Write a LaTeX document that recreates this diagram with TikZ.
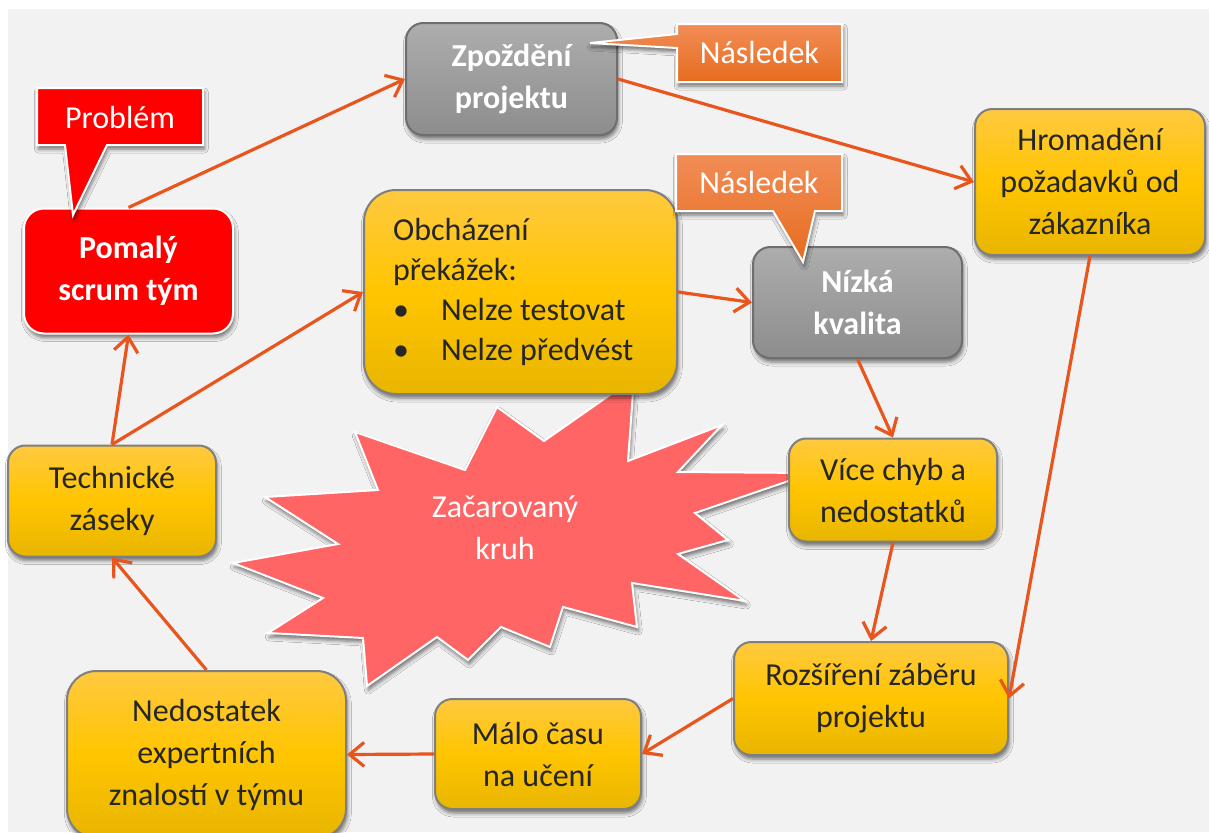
\documentclass[tikz,border=0pt]{standalone}
\usepackage{fontspec}
\setmainfont{Carlito}
\usetikzlibrary{arrows.meta,shadows.blur,calc}

\definecolor{bggray}{HTML}{F2F2F2}
\definecolor{arrowc}{HTML}{E8561E}
\definecolor{goldtop}{HTML}{FFC940}
\definecolor{goldmid}{HTML}{FFC500}
\definecolor{goldbot}{HTML}{E8B500}
\definecolor{greytop}{HTML}{ADADAD}
\definecolor{greybot}{HTML}{8D8D8D}
\definecolor{greyedge}{HTML}{6E6E6E}
\definecolor{boxedge}{HTML}{7F7F7F}
\definecolor{orangetop}{HTML}{F28D57}
\definecolor{orangebot}{HTML}{E66C1E}
\definecolor{alarm}{HTML}{FF0000}
\definecolor{burst}{HTML}{FF6565}
\definecolor{ink}{HTML}{262626}

\begin{document}
\begin{tikzpicture}[x=0.75pt,y=-0.75pt,
  every node/.style={font=\fontsize{24}{31.5}\selectfont},
  shadowed/.style={blur shadow={shadow xshift=1pt,shadow yshift=-3pt,
      shadow blur radius=3pt,shadow opacity=55}},
  card/.style={rectangle,rounded corners=13pt,draw=boxedge,line width=1.5pt,
      top color=goldtop,bottom color=goldbot,middle color=goldmid,
      text=ink,align=center,inner sep=0pt,shadowed},
  greycard/.style={rectangle,rounded corners=13pt,draw=greyedge,line width=1.5pt,
      top color=greytop,bottom color=greybot,
      text=white,align=center,inner sep=0pt,font=\fontsize{24}{31.5}\selectfont\bfseries,shadowed},
  redcard/.style={rectangle,rounded corners=15pt,draw=white,line width=1.5pt,
      fill=alarm,text=white,align=center,inner sep=0pt,
      font=\fontsize{24}{31.5}\selectfont\bfseries,shadowed},
  calloutshape/.style={draw=white,line width=1.5pt,line join=miter,shadowed},
  callouttext/.style={text=white,inner sep=0pt},
  flow/.style={draw=arrowc,line width=2.4pt,
      -{Straight Barb[length=11pt,width=18pt]}},
]
\useasboundingbox (0,0) rectangle (1209,832);
\clip (0,0) rectangle (1209,832);

% page and canvas
\fill[white] (0,0) rectangle (1209,832);
\fill[bggray] (8,9) rectangle (1209,832);

% the burst behind everything
\path[fill=burst,draw=white,line width=1.5pt,line join=miter,shadowed]
  (355,432) -- (465,470) -- (497,407) -- (544,441) -- (634,378) -- (628,461)
  -- (722,425) -- (678,472) -- (812,473) -- (695,513) -- (728,540) -- (678,554)
  -- (745,601) -- (632,583) -- (637,627) -- (563,607) -- (550,647) -- (501,627)
  -- (468,660) -- (437,637) -- (367,686) -- (363,638) -- (268,633) -- (323,598)
  -- (233,563) -- (338,544) -- (265,497) -- (378,490) -- cycle;
\node[text=white,align=center] (zacarovany) at (505,528) {Začarovaný\\kruh};

% boxes
\node[redcard,minimum width=156.75pt,minimum height=93.75pt] (pomaly) at (128.5,271) {Pomalý\\scrum tým};
\node[greycard,minimum width=158.25pt,minimum height=84pt] (zpozdeni) at (511.5,79) {Zpoždění\\projektu};
\node[card,minimum width=172.5pt,minimum height=109.5pt] (hromadeni) at (1090,182) {Hromadění\\požadavků od\\zákazníka};
\node[card,rounded corners=24pt,minimum width=234.75pt,minimum height=153pt,
      text width=191pt,align=flush left,font=\fontsize{24}{30}\selectfont] (obchazeni) at (520.5,292)
  {Obcházení\\překážek:\\\makebox[36pt][l]{\textbullet}Nelze testovat\\\makebox[36pt][l]{\textbullet}Nelze předvést};
\node[greycard,minimum width=156.75pt,minimum height=83.25pt] (nizka) at (857.5,302.5) {Nízká\\kvalita};
\node[card,minimum width=156pt,minimum height=77.25pt] (vice) at (893,490) {Více chyb a\\nedostatků};
\node[card,minimum width=156pt,minimum height=83.25pt] (technicke) at (112,501) {Technické\\záseky};
\node[card,minimum width=205.5pt,minimum height=84.75pt] (rozsireni) at (871,698.5) {Rozšíření záběru\\projektu};
\node[card,minimum width=154.5pt,minimum height=82.5pt] (malo) at (538,754) {Málo času\\na učení};
\node[card,rounded corners=22pt,minimum width=209.25pt,minimum height=125.25pt] (nedostatek) at (206.5,754.5) {Nedostatek\\expertních\\znalostí v týmu};

% callouts
\path[calloutshape,fill=alarm]
  (37,88) -- (203,88) -- (203,145) -- (107,145) -- (73,215) -- (65,145) -- (37,145) -- cycle;
\node[callouttext] (problem) at (120,117) {Problém};

\path[calloutshape,top color=orangetop,bottom color=orangebot]
  (677,24) -- (842,24) -- (842,82) -- (677,82) -- (677,48) -- (590,43) -- (677,34) -- cycle;
\node[callouttext] (nasledek1) at (759.5,53) {Následek};

\path[calloutshape,top color=orangetop,bottom color=orangebot]
  (676,154) -- (842,154) -- (842,211) -- (815,211) -- (803,262) -- (773,211) -- (676,211) -- cycle;
\node[callouttext] (nasledek2) at (759,183) {Následek};

% causal chain
\draw[flow] (pomaly.north) -- (zpozdeni.west);
\draw[flow] (zpozdeni.east) -- (hromadeni.west);
\draw[flow] (hromadeni.south) -- (rozsireni.east);
\draw[flow] (obchazeni.east) -- (nizka.west);
\draw[flow] (nizka.south) -- (vice.north);
\draw[flow] (vice.south) -- (rozsireni.north);
\draw[flow] (rozsireni.west) -- (malo.east);
\draw[flow] (malo.west) -- (nedostatek.east);
\draw[flow] (nedostatek.north) -- (technicke.south);
\draw[flow] (technicke.north) -- (pomaly.south);
\draw[flow] (technicke.north) -- (obchazeni.west);
\end{tikzpicture}
\end{document}
